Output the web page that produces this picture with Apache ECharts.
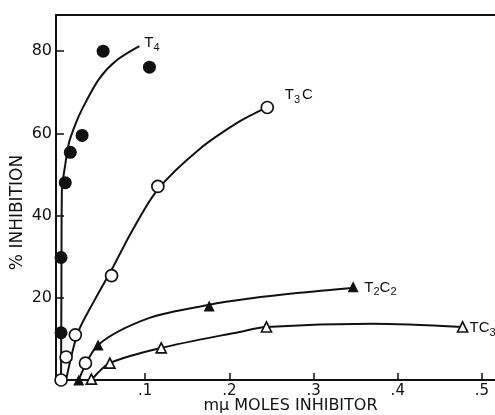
<!DOCTYPE html>
<html>
<head>
<meta charset="utf-8">
<script src="https://cdn.jsdelivr.net/npm/echarts@6/dist/echarts.min.js"></script>
<style>
  html, body { margin: 0; padding: 0; background: #fff; }
  #grafico { width: 495px; height: 415px; }
</style>
</head>
<body>
<div id="grafico"></div>
<script>
// puntos medidos (x = mu moles inhibidor, y = % inhibicion)
const t4X = [0, 0, 0.005, 0.011, 0.025, 0.05, 0.105];
const t4Y = [11.5, 29.8, 48, 55.4, 59.5, 80, 76.1];
const t3cX = [0, 0.006, 0.017, 0.029, 0.06, 0.115, 0.245];
const t3cY = [0, 5.6, 11, 4.1, 25.4, 47.1, 66.3];
const t2c2X = [0.021, 0.044, 0.176, 0.347];
const t2c2Y = [0, 8.5, 18, 22.7];
const tc3X = [0.036, 0.058, 0.119, 0.244, 0.477];
const tc3Y = [0.2, 4.1, 7.8, 12.9, 12.9];

// curvas ajustadas
const t4CurvaX = [0, 0.0004, 0.001, 0.005, 0.0095, 0.017, 0.025, 0.045, 0.065, 0.093];
const t4CurvaY = [0, 19.5, 46, 52.4, 57.8, 62.2, 65.9, 73.2, 77.6, 81.2];
const t3cCurvaX = [0.006, 0.02, 0.04, 0.06, 0.085, 0.115, 0.164, 0.212, 0.242];
const t3cCurvaY = [0, 11.5, 19.5, 26.8, 36.5, 46.4, 56.1, 62.9, 66.1];
const t2c2CurvaX = [0.021, 0.044, 0.105, 0.176, 0.224, 0.283, 0.346];
const t2c2CurvaY = [0, 8.5, 15.1, 18.3, 19.8, 21.2, 22.4];
const tc3CurvaX = [0.036, 0.058, 0.119, 0.212, 0.244, 0.37, 0.477];
const tc3CurvaY = [0, 4.1, 7.8, 11.7, 12.9, 13.7, 12.9];

const xTicks = [0.1, 0.2, 0.3, 0.4, 0.5];

const fuente = "'DejaVu Sans', sans-serif";
const fuenteEtiqueta = "'Liberation Sans Narrow', 'Liberation Sans', sans-serif";

function pares(xs, ys) {
  return xs.map((x, i) => [x, ys[i]]);
}

const richEtiqueta = {
  t: { fontSize: 15, lineHeight: 20, fontFamily: fuenteEtiqueta, color: '#111', verticalAlign: 'middle' },
  c: { fontSize: 15, lineHeight: 20, fontFamily: fuenteEtiqueta, color: '#111', verticalAlign: 'middle', padding: [0, 0, 0, 2] },
  s: { fontSize: 11, lineHeight: 9, fontFamily: fuenteEtiqueta, color: '#111', verticalAlign: 'bottom' }
};

function curva(xs, ys, texto, offset) {
  return {
    type: 'line',
    data: pares(xs, ys),
    smooth: 0.3,
    showSymbol: false,
    symbol: 'none',
    lineStyle: { color: '#111', width: 2 },
    endLabel: {
      show: true,
      distance: 0,
      offset: offset,
      formatter: texto,
      rich: richEtiqueta
    },
    z: 2,
    silent: true
  };
}

function puntos(xs, ys, simbolo, relleno, tam) {
  return {
    type: 'scatter',
    data: pares(xs, ys),
    symbol: simbolo,
    symbolSize: tam,
    itemStyle: {
      opacity: 1,
      color: relleno ? '#111' : '#fff',
      borderColor: '#111',
      borderWidth: relleno ? 0 : 1.7
    },
    z: 4,
    silent: true
  };
}

const dom = document.getElementById('grafico');
const chart = echarts.init(dom);

const option = {
  animation: false,
  backgroundColor: '#fff',
  grid: { left: 56, right: 0, top: 15, bottom: 35, outerBoundsMode: 'none', containLabel: false },
  xAxis: [
    {
      type: 'value',
      min: -0.006,
      max: 0.5155,
      name: 'm\u03bc MOLES INHIBITOR',
      nameLocation: 'middle',
      nameGap: 18,
      nameMoveOverlap: false,
      nameTextStyle: { fontFamily: fuente, fontSize: 16, color: '#111', padding: [0, 0, 0, 30] },
      axisLine: { show: true, onZero: false, lineStyle: { color: '#111', width: 2 } },
      axisTick: { show: true, inside: true, length: 7, customValues: xTicks, lineStyle: { color: '#111', width: 1.5 } },
      axisLabel: {
        customValues: xTicks,
        margin: 4,
        fontFamily: fuente,
        fontSize: 15,
        color: '#111',
        formatter: v => String(v).replace(/^0/, '')
      },
      splitLine: { show: false }
    },
    {
      type: 'value',
      position: 'top',
      min: -0.006,
      max: 0.5155,
      axisLine: { show: true, onZero: false, lineStyle: { color: '#111', width: 2 } },
      axisTick: { show: false },
      axisLabel: { show: false },
      splitLine: { show: false }
    }
  ],
  yAxis: {
    type: 'value',
    min: 0,
    max: 88.8,
    interval: 20,
    name: '% INHIBITION',
    nameLocation: 'middle',
    nameGap: 30,
    nameMoveOverlap: false,
    nameTextStyle: { fontFamily: fuente, fontSize: 17, color: '#111', padding: [0, 30, 0, 0] },
    axisLine: { show: true, onZero: false, lineStyle: { color: '#111', width: 2 } },
    axisTick: { show: true, inside: true, length: 8, lineStyle: { color: '#111', width: 1.5 } },
    axisLabel: {
      margin: 4,
      fontFamily: fuente,
      fontSize: 16,
      color: '#111',
      showMinLabel: false,
      showMaxLabel: false,
      formatter: v => (v === 0 ? '' : String(v))
    },
    splitLine: { show: false }
  },
  series: [
    curva(t4CurvaX, t4CurvaY, '{t|T}{s|4}', [5, -3]),
    curva(t3cCurvaX, t3cCurvaY, '{t|T}{s|3}{c|C}', [20, -13]),
    curva(t2c2CurvaX, t2c2CurvaY, '{t|T}{s|2}{t|C}{s|2}', [12, 0]),
    curva(tc3CurvaX, tc3CurvaY, '{t|TC}{s|3}', [7, 1]),
    puntos(t4X, t4Y, 'circle', true, 13),
    puntos(t3cX, t3cY, 'circle', false, 12),
    puntos(t2c2X, t2c2Y, 'triangle', true, 11),
    puntos(tc3X, tc3Y, 'triangle', false, 10)
  ]
};

chart.setOption(option);
</script>
</body>
</html>
